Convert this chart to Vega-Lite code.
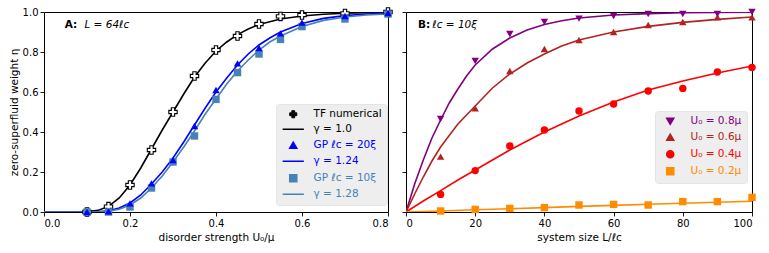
{
  "$schema": "https://vega.github.io/schema/vega-lite/v6.json",
  "padding": {"left": 8, "top": 5, "right": 10, "bottom": 0},
  "spacing": 6,
  "config": {
    "font": "DejaVu Sans",
    "view": {"stroke": "#000000", "strokeWidth": 1},
    "axis": {"grid": false, "domain": false, "tickColor": "#000000", "tickSize": 4, "tickWidth": 0.9, "labelFont": "DejaVu Sans", "labelFontSize": 10, "labelColor": "#000000", "labelPadding": 2, "labelOverlap": false, "titleFont": "DejaVu Sans", "titleFontSize": 10.5, "titleFontWeight": "normal", "titleColor": "#000000"}
  },
  "datasets": {
    "leftLines": [
      {"s1": "γ = 1.0", "U": 0, "eta": 0}, {"s1": "γ = 1.0", "U": 0.05, "eta": 0}, {"s1": "γ = 1.0", "U": 0.1, "eta": 0.002}, {"s1": "γ = 1.0", "U": 0.125, "eta": 0.008}, {"s1": "γ = 1.0", "U": 0.15, "eta": 0.028}, {"s1": "γ = 1.0", "U": 0.175, "eta": 0.07}, {"s1": "γ = 1.0", "U": 0.2, "eta": 0.135}, {"s1": "γ = 1.0", "U": 0.225, "eta": 0.22}, {"s1": "γ = 1.0", "U": 0.25, "eta": 0.315}, {"s1": "γ = 1.0", "U": 0.275, "eta": 0.41}, {"s1": "γ = 1.0", "U": 0.3, "eta": 0.5}, {"s1": "γ = 1.0", "U": 0.325, "eta": 0.59}, {"s1": "γ = 1.0", "U": 0.35, "eta": 0.675}, {"s1": "γ = 1.0", "U": 0.375, "eta": 0.745}, {"s1": "γ = 1.0", "U": 0.4, "eta": 0.805}, {"s1": "γ = 1.0", "U": 0.425, "eta": 0.85}, {"s1": "γ = 1.0", "U": 0.45, "eta": 0.887}, {"s1": "γ = 1.0", "U": 0.475, "eta": 0.915}, {"s1": "γ = 1.0", "U": 0.5, "eta": 0.937}, {"s1": "γ = 1.0", "U": 0.55, "eta": 0.965}, {"s1": "γ = 1.0", "U": 0.6, "eta": 0.98}, {"s1": "γ = 1.0", "U": 0.65, "eta": 0.989}, {"s1": "γ = 1.0", "U": 0.7, "eta": 0.994}, {"s1": "γ = 1.0", "U": 0.75, "eta": 0.997}, {"s1": "γ = 1.0", "U": 0.8, "eta": 0.999},
      {"s1": "γ = 1.24", "U": 0, "eta": 0}, {"s1": "γ = 1.24", "U": 0.1, "eta": 0}, {"s1": "γ = 1.24", "U": 0.125, "eta": 0.001}, {"s1": "γ = 1.24", "U": 0.15, "eta": 0.006}, {"s1": "γ = 1.24", "U": 0.175, "eta": 0.02}, {"s1": "γ = 1.24", "U": 0.2, "eta": 0.045}, {"s1": "γ = 1.24", "U": 0.225, "eta": 0.085}, {"s1": "γ = 1.24", "U": 0.25, "eta": 0.14}, {"s1": "γ = 1.24", "U": 0.275, "eta": 0.2}, {"s1": "γ = 1.24", "U": 0.3, "eta": 0.27}, {"s1": "γ = 1.24", "U": 0.325, "eta": 0.35}, {"s1": "γ = 1.24", "U": 0.35, "eta": 0.435}, {"s1": "γ = 1.24", "U": 0.375, "eta": 0.52}, {"s1": "γ = 1.24", "U": 0.4, "eta": 0.6}, {"s1": "γ = 1.24", "U": 0.425, "eta": 0.67}, {"s1": "γ = 1.24", "U": 0.45, "eta": 0.735}, {"s1": "γ = 1.24", "U": 0.475, "eta": 0.79}, {"s1": "γ = 1.24", "U": 0.5, "eta": 0.835}, {"s1": "γ = 1.24", "U": 0.525, "eta": 0.87}, {"s1": "γ = 1.24", "U": 0.55, "eta": 0.9}, {"s1": "γ = 1.24", "U": 0.6, "eta": 0.943}, {"s1": "γ = 1.24", "U": 0.65, "eta": 0.968}, {"s1": "γ = 1.24", "U": 0.7, "eta": 0.982}, {"s1": "γ = 1.24", "U": 0.75, "eta": 0.99}, {"s1": "γ = 1.24", "U": 0.8, "eta": 0.995},
      {"s1": "γ = 1.28", "U": 0, "eta": 0}, {"s1": "γ = 1.28", "U": 0.1, "eta": 0}, {"s1": "γ = 1.28", "U": 0.125, "eta": 0.001}, {"s1": "γ = 1.28", "U": 0.15, "eta": 0.004}, {"s1": "γ = 1.28", "U": 0.175, "eta": 0.014}, {"s1": "γ = 1.28", "U": 0.2, "eta": 0.035}, {"s1": "γ = 1.28", "U": 0.225, "eta": 0.07}, {"s1": "γ = 1.28", "U": 0.25, "eta": 0.12}, {"s1": "γ = 1.28", "U": 0.275, "eta": 0.18}, {"s1": "γ = 1.28", "U": 0.3, "eta": 0.25}, {"s1": "γ = 1.28", "U": 0.325, "eta": 0.325}, {"s1": "γ = 1.28", "U": 0.35, "eta": 0.405}, {"s1": "γ = 1.28", "U": 0.375, "eta": 0.49}, {"s1": "γ = 1.28", "U": 0.4, "eta": 0.565}, {"s1": "γ = 1.28", "U": 0.425, "eta": 0.64}, {"s1": "γ = 1.28", "U": 0.45, "eta": 0.705}, {"s1": "γ = 1.28", "U": 0.475, "eta": 0.76}, {"s1": "γ = 1.28", "U": 0.5, "eta": 0.81}, {"s1": "γ = 1.28", "U": 0.525, "eta": 0.85}, {"s1": "γ = 1.28", "U": 0.55, "eta": 0.88}, {"s1": "γ = 1.28", "U": 0.6, "eta": 0.928}, {"s1": "γ = 1.28", "U": 0.65, "eta": 0.958}, {"s1": "γ = 1.28", "U": 0.7, "eta": 0.975}, {"s1": "γ = 1.28", "U": 0.75, "eta": 0.985}, {"s1": "γ = 1.28", "U": 0.8, "eta": 0.99}
    ],
    "leftTF": [
      {"s1": "TF numerical", "U": 0.1, "eta": 0.0}, {"s1": "TF numerical", "U": 0.15, "eta": 0.027}, {"s1": "TF numerical", "U": 0.2, "eta": 0.135}, {"s1": "TF numerical", "U": 0.25, "eta": 0.31}, {"s1": "TF numerical", "U": 0.3, "eta": 0.5}, {"s1": "TF numerical", "U": 0.35, "eta": 0.68}, {"s1": "TF numerical", "U": 0.4, "eta": 0.81}, {"s1": "TF numerical", "U": 0.45, "eta": 0.88}, {"s1": "TF numerical", "U": 0.5, "eta": 0.94}, {"s1": "TF numerical", "U": 0.55, "eta": 0.978}, {"s1": "TF numerical", "U": 0.6, "eta": 0.985}, {"s1": "TF numerical", "U": 0.7, "eta": 0.993}, {"s1": "TF numerical", "U": 0.8, "eta": 1.0}
    ],
    "leftGP": [
      {"s1": "GP ℓc = 10ξ", "U": 0.1, "eta": 0.0}, {"s1": "GP ℓc = 10ξ", "U": 0.15, "eta": 0.0}, {"s1": "GP ℓc = 10ξ", "U": 0.2, "eta": 0.025}, {"s1": "GP ℓc = 10ξ", "U": 0.25, "eta": 0.12}, {"s1": "GP ℓc = 10ξ", "U": 0.3, "eta": 0.25}, {"s1": "GP ℓc = 10ξ", "U": 0.35, "eta": 0.38}, {"s1": "GP ℓc = 10ξ", "U": 0.4, "eta": 0.563}, {"s1": "GP ℓc = 10ξ", "U": 0.45, "eta": 0.697}, {"s1": "GP ℓc = 10ξ", "U": 0.5, "eta": 0.79}, {"s1": "GP ℓc = 10ξ", "U": 0.55, "eta": 0.863}, {"s1": "GP ℓc = 10ξ", "U": 0.6, "eta": 0.927}, {"s1": "GP ℓc = 10ξ", "U": 0.7, "eta": 0.965}, {"s1": "GP ℓc = 10ξ", "U": 0.8, "eta": 0.99},
      {"s1": "GP ℓc = 20ξ", "U": 0.1, "eta": 0.0}, {"s1": "GP ℓc = 20ξ", "U": 0.15, "eta": 0.003}, {"s1": "GP ℓc = 20ξ", "U": 0.2, "eta": 0.043}, {"s1": "GP ℓc = 20ξ", "U": 0.25, "eta": 0.143}, {"s1": "GP ℓc = 20ξ", "U": 0.3, "eta": 0.26}, {"s1": "GP ℓc = 20ξ", "U": 0.35, "eta": 0.43}, {"s1": "GP ℓc = 20ξ", "U": 0.4, "eta": 0.61}, {"s1": "GP ℓc = 20ξ", "U": 0.45, "eta": 0.743}, {"s1": "GP ℓc = 20ξ", "U": 0.5, "eta": 0.82}, {"s1": "GP ℓc = 20ξ", "U": 0.55, "eta": 0.893}, {"s1": "GP ℓc = 20ξ", "U": 0.6, "eta": 0.947}, {"s1": "GP ℓc = 20ξ", "U": 0.7, "eta": 0.98}, {"s1": "GP ℓc = 20ξ", "U": 0.8, "eta": 0.995}
    ],
    "rightLines": [
      {"s2": "U₀ = 0.8μ", "L": 0, "eta": 0}, {"s2": "U₀ = 0.8μ", "L": 2.5, "eta": 0.14}, {"s2": "U₀ = 0.8μ", "L": 5, "eta": 0.26}, {"s2": "U₀ = 0.8μ", "L": 7.5, "eta": 0.37}, {"s2": "U₀ = 0.8μ", "L": 10, "eta": 0.46}, {"s2": "U₀ = 0.8μ", "L": 12.5, "eta": 0.545}, {"s2": "U₀ = 0.8μ", "L": 15, "eta": 0.615}, {"s2": "U₀ = 0.8μ", "L": 17.5, "eta": 0.68}, {"s2": "U₀ = 0.8μ", "L": 20, "eta": 0.735}, {"s2": "U₀ = 0.8μ", "L": 25, "eta": 0.815}, {"s2": "U₀ = 0.8μ", "L": 30, "eta": 0.87}, {"s2": "U₀ = 0.8μ", "L": 35, "eta": 0.91}, {"s2": "U₀ = 0.8μ", "L": 40, "eta": 0.938}, {"s2": "U₀ = 0.8μ", "L": 45, "eta": 0.956}, {"s2": "U₀ = 0.8μ", "L": 50, "eta": 0.97}, {"s2": "U₀ = 0.8μ", "L": 60, "eta": 0.985}, {"s2": "U₀ = 0.8μ", "L": 70, "eta": 0.992}, {"s2": "U₀ = 0.8μ", "L": 80, "eta": 0.996}, {"s2": "U₀ = 0.8μ", "L": 90, "eta": 0.998}, {"s2": "U₀ = 0.8μ", "L": 100, "eta": 0.999},
      {"s2": "U₀ = 0.6μ", "L": 0, "eta": 0}, {"s2": "U₀ = 0.6μ", "L": 2.5, "eta": 0.09}, {"s2": "U₀ = 0.6μ", "L": 5, "eta": 0.175}, {"s2": "U₀ = 0.6μ", "L": 7.5, "eta": 0.255}, {"s2": "U₀ = 0.6μ", "L": 10, "eta": 0.325}, {"s2": "U₀ = 0.6μ", "L": 15, "eta": 0.44}, {"s2": "U₀ = 0.6μ", "L": 20, "eta": 0.53}, {"s2": "U₀ = 0.6μ", "L": 25, "eta": 0.62}, {"s2": "U₀ = 0.6μ", "L": 30, "eta": 0.69}, {"s2": "U₀ = 0.6μ", "L": 35, "eta": 0.745}, {"s2": "U₀ = 0.6μ", "L": 40, "eta": 0.79}, {"s2": "U₀ = 0.6μ", "L": 45, "eta": 0.83}, {"s2": "U₀ = 0.6μ", "L": 50, "eta": 0.86}, {"s2": "U₀ = 0.6μ", "L": 60, "eta": 0.9}, {"s2": "U₀ = 0.6μ", "L": 70, "eta": 0.928}, {"s2": "U₀ = 0.6μ", "L": 80, "eta": 0.948}, {"s2": "U₀ = 0.6μ", "L": 90, "eta": 0.963}, {"s2": "U₀ = 0.6μ", "L": 100, "eta": 0.975},
      {"s2": "U₀ = 0.4μ", "L": 0, "eta": 0}, {"s2": "U₀ = 0.4μ", "L": 5, "eta": 0.055}, {"s2": "U₀ = 0.4μ", "L": 10, "eta": 0.107}, {"s2": "U₀ = 0.4μ", "L": 15, "eta": 0.16}, {"s2": "U₀ = 0.4μ", "L": 20, "eta": 0.21}, {"s2": "U₀ = 0.4μ", "L": 25, "eta": 0.26}, {"s2": "U₀ = 0.4μ", "L": 30, "eta": 0.31}, {"s2": "U₀ = 0.4μ", "L": 35, "eta": 0.355}, {"s2": "U₀ = 0.4μ", "L": 40, "eta": 0.4}, {"s2": "U₀ = 0.4μ", "L": 45, "eta": 0.44}, {"s2": "U₀ = 0.4μ", "L": 50, "eta": 0.48}, {"s2": "U₀ = 0.4μ", "L": 60, "eta": 0.55}, {"s2": "U₀ = 0.4μ", "L": 70, "eta": 0.61}, {"s2": "U₀ = 0.4μ", "L": 80, "eta": 0.655}, {"s2": "U₀ = 0.4μ", "L": 90, "eta": 0.695}, {"s2": "U₀ = 0.4μ", "L": 100, "eta": 0.73},
      {"s2": "U₀ = 0.2μ", "L": 0, "eta": 0}, {"s2": "U₀ = 0.2μ", "L": 10, "eta": 0.005}, {"s2": "U₀ = 0.2μ", "L": 20, "eta": 0.011}, {"s2": "U₀ = 0.2μ", "L": 30, "eta": 0.016}, {"s2": "U₀ = 0.2μ", "L": 40, "eta": 0.022}, {"s2": "U₀ = 0.2μ", "L": 50, "eta": 0.028}, {"s2": "U₀ = 0.2μ", "L": 60, "eta": 0.033}, {"s2": "U₀ = 0.2μ", "L": 70, "eta": 0.039}, {"s2": "U₀ = 0.2μ", "L": 80, "eta": 0.044}, {"s2": "U₀ = 0.2μ", "L": 90, "eta": 0.049}, {"s2": "U₀ = 0.2μ", "L": 100, "eta": 0.054}
    ],
    "rightPts": [
      {"s2": "U₀ = 0.2μ", "L": 10, "eta": 0.005}, {"s2": "U₀ = 0.2μ", "L": 20, "eta": 0.013}, {"s2": "U₀ = 0.2μ", "L": 30, "eta": 0.018}, {"s2": "U₀ = 0.2μ", "L": 40, "eta": 0.022}, {"s2": "U₀ = 0.2μ", "L": 50, "eta": 0.035}, {"s2": "U₀ = 0.2μ", "L": 60, "eta": 0.038}, {"s2": "U₀ = 0.2μ", "L": 70, "eta": 0.035}, {"s2": "U₀ = 0.2μ", "L": 80, "eta": 0.052}, {"s2": "U₀ = 0.2μ", "L": 90, "eta": 0.052}, {"s2": "U₀ = 0.2μ", "L": 100, "eta": 0.073},
      {"s2": "U₀ = 0.4μ", "L": 10, "eta": 0.088}, {"s2": "U₀ = 0.4μ", "L": 20, "eta": 0.207}, {"s2": "U₀ = 0.4μ", "L": 30, "eta": 0.33}, {"s2": "U₀ = 0.4μ", "L": 40, "eta": 0.41}, {"s2": "U₀ = 0.4μ", "L": 50, "eta": 0.505}, {"s2": "U₀ = 0.4μ", "L": 60, "eta": 0.54}, {"s2": "U₀ = 0.4μ", "L": 70, "eta": 0.605}, {"s2": "U₀ = 0.4μ", "L": 80, "eta": 0.618}, {"s2": "U₀ = 0.4μ", "L": 90, "eta": 0.7}, {"s2": "U₀ = 0.4μ", "L": 100, "eta": 0.723},
      {"s2": "U₀ = 0.6μ", "L": 10, "eta": 0.277}, {"s2": "U₀ = 0.6μ", "L": 20, "eta": 0.518}, {"s2": "U₀ = 0.6μ", "L": 30, "eta": 0.705}, {"s2": "U₀ = 0.6μ", "L": 40, "eta": 0.815}, {"s2": "U₀ = 0.6μ", "L": 50, "eta": 0.86}, {"s2": "U₀ = 0.6μ", "L": 60, "eta": 0.9}, {"s2": "U₀ = 0.6μ", "L": 70, "eta": 0.935}, {"s2": "U₀ = 0.6μ", "L": 80, "eta": 0.95}, {"s2": "U₀ = 0.6μ", "L": 90, "eta": 0.973}, {"s2": "U₀ = 0.6μ", "L": 100, "eta": 0.973},
      {"s2": "U₀ = 0.8μ", "L": 10, "eta": 0.465}, {"s2": "U₀ = 0.8μ", "L": 20, "eta": 0.755}, {"s2": "U₀ = 0.8μ", "L": 30, "eta": 0.89}, {"s2": "U₀ = 0.8μ", "L": 40, "eta": 0.95}, {"s2": "U₀ = 0.8μ", "L": 50, "eta": 0.967}, {"s2": "U₀ = 0.8μ", "L": 60, "eta": 0.98}, {"s2": "U₀ = 0.8μ", "L": 70, "eta": 0.99}, {"s2": "U₀ = 0.8μ", "L": 80, "eta": 0.99}, {"s2": "U₀ = 0.8μ", "L": 90, "eta": 0.99}, {"s2": "U₀ = 0.8μ", "L": 100, "eta": 1.0}
    ]
  },
  "hconcat": [
    {
      "width": 344,
      "height": 200,
      "layer": [
        {
          "data": {"name": "leftLines"},
          "mark": {"type": "line", "strokeWidth": 1.6, "clip": true},
          "encoding": {
            "x": {"field": "U", "type": "quantitative", "scale": {"domain": [0, 0.8], "nice": false, "zero": false}, "axis": {"values": [0, 0.2, 0.4, 0.6, 0.8], "format": ".1f", "title": "disorder strength U₀/μ", "titlePadding": 4}},
            "y": {"field": "eta", "type": "quantitative", "scale": {"domain": [0, 1], "nice": false}, "axis": {"tickCount": 5, "format": ".1f", "title": "zero-superfluid weight η", "titlePadding": 3}},
            "color": {"field": "s1", "type": "nominal", "scale": {"domain": ["TF numerical", "γ = 1.0", "GP ℓc = 20ξ", "γ = 1.24", "GP ℓc = 10ξ", "γ = 1.28"], "range": ["#000000", "#000000", "#0000ff", "#0000ff", "#4682b4", "#4682b4"]},
              "legend": {"title": null, "orient": "none", "legendX": 232, "legendY": 92, "fillColor": "#eeeeee", "strokeColor": "#e4e4e4", "padding": 5, "cornerRadius": 3, "symbolSize": 50, "symbolOpacity": 1, "symbolStrokeWidth": 1.5, "symbolOffset": 7, "labelFont": "DejaVu Sans", "labelFontSize": 10.5, "labelOffset": 15, "rowPadding": 4,
                "encode": {
                  "symbols": {"update": {
                    "stroke": {"signal": "(datum.value === 'GP ℓc = 20ξ' || datum.value === 'γ = 1.24') ? '#0000ff' : (datum.value === 'GP ℓc = 10ξ' || datum.value === 'γ = 1.28') ? '#4682b4' : '#000000'"},
                    "fill": {"signal": "datum.value === 'TF numerical' ? '#ffffff' : (datum.value === 'GP ℓc = 20ξ') ? '#0000ff' : (datum.value === 'GP ℓc = 10ξ') ? '#4682b4' : '#000000'"},
                    "strokeWidth": {"signal": "datum.value === 'TF numerical' ? 1 : 1.5"}
                  }},
                  "labels": {"update": {
                    "fill": {"signal": "(datum.value === 'GP ℓc = 20ξ' || datum.value === 'γ = 1.24') ? '#0000ff' : (datum.value === 'GP ℓc = 10ξ' || datum.value === 'γ = 1.28') ? '#4682b4' : '#000000'"}
                  }}
                }
              }
            }
          }
        },
        {
          "data": {"name": "leftTF"},
          "mark": {"type": "point", "filled": false, "fill": "#ffffff", "opacity": 1, "strokeWidth": 1.1, "size": 70},
          "encoding": {
            "x": {"field": "U", "type": "quantitative", "scale": {"domain": [0, 0.8], "nice": false, "zero": false}, "axis": {"values": [0, 0.2, 0.4, 0.6, 0.8], "format": ".1f", "title": "disorder strength U₀/μ", "titlePadding": 4}},
            "y": {"field": "eta", "type": "quantitative", "scale": {"domain": [0, 1], "nice": false}, "axis": {"tickCount": 5, "format": ".1f", "title": "zero-superfluid weight η", "titlePadding": 3}},
            "color": {"field": "s1", "type": "nominal"},
            "shape": {"field": "s1", "type": "nominal", "scale": {"domain": ["TF numerical", "γ = 1.0", "GP ℓc = 20ξ", "γ = 1.24", "GP ℓc = 10ξ", "γ = 1.28"], "range": ["cross", "M-3,0H3", "triangle-up", "M-3,0H3", "square", "M-3,0H3"]}}
          }
        },
        {
          "data": {"name": "leftGP"},
          "mark": {"type": "point", "filled": true, "opacity": 1, "size": 55},
          "encoding": {
            "x": {"field": "U", "type": "quantitative", "scale": {"domain": [0, 0.8], "nice": false, "zero": false}, "axis": {"values": [0, 0.2, 0.4, 0.6, 0.8], "format": ".1f", "title": "disorder strength U₀/μ", "titlePadding": 4}},
            "y": {"field": "eta", "type": "quantitative", "scale": {"domain": [0, 1], "nice": false}, "axis": {"tickCount": 5, "format": ".1f", "title": "zero-superfluid weight η", "titlePadding": 3}},
            "color": {"field": "s1", "type": "nominal"},
            "shape": {"field": "s1", "type": "nominal"}
          }
        },
        {
          "data": {"values": [{"t": "A:"}]},
          "mark": {"type": "text", "align": "left", "baseline": "middle", "fontWeight": "bold", "fontSize": 10.5, "font": "DejaVu Sans", "color": "#000000"},
          "encoding": {"text": {"field": "t", "type": "nominal"}, "x": {"datum": 0.048, "type": "quantitative"}, "y": {"datum": 0.935, "type": "quantitative"}}
        },
        {
          "data": {"values": [{"t": "L = 64ℓc"}]},
          "mark": {"type": "text", "align": "left", "baseline": "middle", "fontStyle": "italic", "fontSize": 10.5, "font": "DejaVu Sans", "color": "#000000"},
          "encoding": {"text": {"field": "t", "type": "nominal"}, "x": {"datum": 0.094, "type": "quantitative"}, "y": {"datum": 0.935, "type": "quantitative"}}
        }
      ]
    },
    {
      "width": 346,
      "height": 200,
      "layer": [
        {
          "data": {"name": "rightLines"},
          "mark": {"type": "line", "strokeWidth": 1.6, "clip": true},
          "encoding": {
            "x": {"field": "L", "type": "quantitative", "scale": {"domain": [0, 100], "nice": false}, "axis": {"values": [0, 20, 40, 60, 80, 100], "title": "system size L/ℓc", "titlePadding": 4}},
            "y": {"field": "eta", "type": "quantitative", "scale": {"domain": [0, 1], "nice": false}, "axis": {"tickCount": 5, "labels": false, "title": null}},
            "color": {"field": "s2", "type": "nominal", "scale": {"domain": ["U₀ = 0.8μ", "U₀ = 0.6μ", "U₀ = 0.4μ", "U₀ = 0.2μ"], "range": ["#800080", "#b22222", "#ff0000", "#ff8c00"]},
              "legend": {"title": null, "orient": "none", "legendX": 249, "legendY": 99, "fillColor": "#eeeeee", "strokeColor": "#e4e4e4", "padding": 5, "cornerRadius": 3, "symbolSize": 50, "symbolOpacity": 1, "symbolOffset": 5, "labelFont": "DejaVu Sans", "labelFontSize": 10.5, "labelOffset": 15, "rowPadding": 3,
                "encode": {
                  "symbols": {"update": {
                    "stroke": {"value": "transparent"}
                  }},
                  "labels": {"update": {
                    "fill": {"signal": "datum.value === 'U₀ = 0.8μ' ? '#800080' : datum.value === 'U₀ = 0.6μ' ? '#b22222' : datum.value === 'U₀ = 0.4μ' ? '#ff0000' : '#ff8c00'"}
                  }}
                }
              }
            }
          }
        },
        {
          "data": {"name": "rightPts"},
          "mark": {"type": "point", "filled": true, "opacity": 1, "size": 55},
          "encoding": {
            "x": {"field": "L", "type": "quantitative", "scale": {"domain": [0, 100], "nice": false}, "axis": {"values": [0, 20, 40, 60, 80, 100], "title": "system size L/ℓc", "titlePadding": 4}},
            "y": {"field": "eta", "type": "quantitative", "scale": {"domain": [0, 1], "nice": false}, "axis": {"tickCount": 5, "labels": false, "title": null}},
            "color": {"field": "s2", "type": "nominal"},
            "shape": {"field": "s2", "type": "nominal", "scale": {"domain": ["U₀ = 0.8μ", "U₀ = 0.6μ", "U₀ = 0.4μ", "U₀ = 0.2μ"], "range": ["triangle-down", "triangle-up", "circle", "square"]}}
          }
        },
        {
          "data": {"values": [{"t": "B:"}]},
          "mark": {"type": "text", "align": "left", "baseline": "middle", "fontWeight": "bold", "fontSize": 10.5, "font": "DejaVu Sans", "color": "#000000"},
          "encoding": {"text": {"field": "t", "type": "nominal"}, "x": {"datum": 3.5, "type": "quantitative"}, "y": {"datum": 0.935, "type": "quantitative"}}
        },
        {
          "data": {"values": [{"t": "ℓc = 10ξ"}]},
          "mark": {"type": "text", "align": "left", "baseline": "middle", "fontStyle": "italic", "fontSize": 10.5, "font": "DejaVu Sans", "color": "#000000"},
          "encoding": {"text": {"field": "t", "type": "nominal"}, "x": {"datum": 7.6, "type": "quantitative"}, "y": {"datum": 0.935, "type": "quantitative"}}
        }
      ]
    }
  ],
  "resolve": {"scale": {"color": "independent", "shape": "independent"}}
}
